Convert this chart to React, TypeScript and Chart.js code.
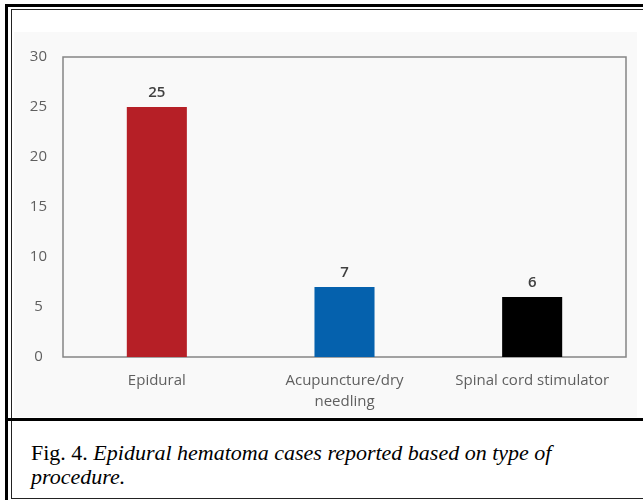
import React, { useEffect, useRef } from "react";
import { Chart, registerables } from "chart.js";

Chart.register(...registerables);

const categories: (string | string[])[] = ["Epidural", ["Acupuncture/dry", "needling"], "Spinal cord stimulator"];
const cases: number[] = [25, 7, 6];
const barColors: string[] = ["#b61f26", "#0561ad", "#000000"];
const yTicks = { min: 0, max: 30, step: 5 };

const plotFrame = {
  id: "plotFrame",
  beforeDatasetsDraw(chart: any) {
    const { ctx, chartArea } = chart;
    ctx.save();
    ctx.strokeStyle = "#858585";
    ctx.lineWidth = 1.5;
    ctx.strokeRect(chartArea.left, chartArea.top, chartArea.right - chartArea.left, chartArea.bottom - chartArea.top);
    ctx.restore();
  },
};

const valueLabels = {
  id: "valueLabels",
  afterDatasetsDraw(chart: any) {
    const { ctx } = chart;
    const meta = chart.getDatasetMeta(0);
    ctx.save();
    ctx.font = "600 15px 'Open Sans'";
    ctx.fillStyle = "#404040";
    ctx.textAlign = "center";
    ctx.textBaseline = "bottom";
    meta.data.forEach((bar: any, i: number) => {
      ctx.fillText(String(chart.data.datasets[0].data[i]), bar.x, bar.y - 7);
    });
    ctx.restore();
  },
};

function BarChart() {
  const ref = useRef<HTMLCanvasElement>(null);
  useEffect(() => {
    if (!ref.current) return;
    const chart = new Chart(ref.current, {
      type: "bar",
      data: {
        labels: categories,
        datasets: [
          {
            data: cases,
            backgroundColor: barColors,
            barPercentage: 0.32,
            categoryPercentage: 1,
          },
        ],
      },
      options: {
        responsive: false,
        animation: false,
        devicePixelRatio: 1,
        layout: { padding: { left: 0, top: 16, right: 11, bottom: 0 } },
        plugins: { legend: { display: false }, tooltip: { enabled: false } },
        scales: {
          x: {
            grid: { display: false, drawTicks: false },
            border: { display: false },
            ticks: {
              color: "#5f5f5f",
              padding: 14,
              font: { family: "'Open Sans'", size: 15, lineHeight: 1.35 },
              maxRotation: 0,
              autoSkip: false,
            },
            afterFit: (s: any) => {
              s.height = 60;
            },
          },
          y: {
            min: yTicks.min,
            max: yTicks.max,
            grid: { display: false, drawTicks: false },
            border: { display: false },
            ticks: {
              stepSize: yTicks.step,
              color: "#5f5f5f",
              padding: 16,
              crossAlign: "center",
              font: { family: "'Open Sans'", size: 15 },
            },
            afterFit: (s: any) => {
              s.width = 49;
            },
          },
        },
      },
      plugins: [plotFrame, valueLabels],
    });
    return () => chart.destroy();
  }, []);
  return <canvas ref={ref} width={623} height={385} style={{ display: "block" }} />;
}

export default function App() {
  useEffect(() => {
    document.body.style.margin = "0";
  }, []);
  return (
    <div style={{ position: "relative", width: 643, height: 500, overflow: "hidden", background: "#ffffff" }}>
      <div style={{ position: "absolute", left: 5, top: 4, width: 700, height: 520, borderTop: "3px solid #000", borderLeft: "3px solid #000" }} />
      <div style={{ position: "absolute", left: 11, top: 9, width: 700, height: 488, border: "1px solid #222" }} />
      <div style={{ position: "absolute", left: 14, top: 32, width: 623, height: 385, background: "#f9f9f9" }}>
        <BarChart />
      </div>
      <div style={{ position: "absolute", left: 5, top: 418, width: 700, height: 3, background: "#000" }} />
      <div
        style={{
          position: "absolute",
          left: 31,
          top: 441,
          fontFamily: "'Liberation Serif', serif",
          fontSize: 22,
          lineHeight: "24px",
          color: "#000",
          whiteSpace: "nowrap",
        }}
      >
        Fig. 4. <i>Epidural hematoma cases reported based on type of</i>
        <br />
        <i>procedure.</i>
      </div>
    </div>
  );
}
